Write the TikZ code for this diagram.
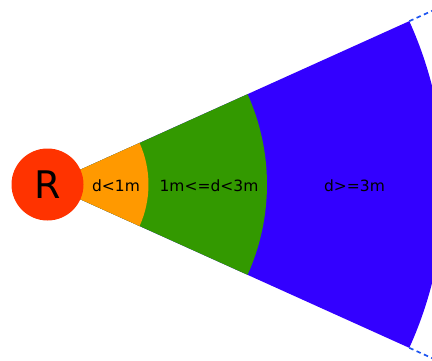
\documentclass[tikz,border=0pt]{standalone}
\usepackage{fontspec}
\setmainfont{DejaVu Sans}
\usetikzlibrary{calc}
\definecolor{rred}{RGB}{255,51,0}
\definecolor{zorange}{RGB}{255,153,0}
\definecolor{zgreen}{RGB}{51,153,0}
\definecolor{zblue}{RGB}{51,0,255}
\definecolor{dashblue}{RGB}{30,85,240}
\tikzset{
  zonelabel/.style={font=\fontsize{15.5}{18}\selectfont, text=black, inner sep=0pt},
  edgedash/.style={draw=dashblue, line width=1.7pt, dash pattern=on 4.5pt off 3.5pt}
}
\begin{document}
\begin{tikzpicture}[x=1pt,y=1pt]
\useasboundingbox (0,0) rectangle (432,360);
\clip (0,0) rectangle (432,360);
\coordinate (c) at (47.5,175.5);
\def\ha{24.3}
% blue zone
\fill[zblue] (c) -- ++(\ha:397) arc[start angle=\ha, end angle=-\ha, radius=397] -- cycle;
% dashed continuation
\draw[edgedash] ($(c)+(\ha:397)$) -- ++(\ha:80);
\draw[edgedash] ($(c)+(-\ha:397)$) -- ++(-\ha:80);
% green zone
\fill[zgreen] (c) -- ++(\ha:219.5) arc[start angle=\ha, end angle=-\ha, radius=219.5] -- cycle;
% orange zone
\fill[zorange] (c) -- ++(\ha:101) arc[start angle=\ha, end angle=-\ha, radius=101] -- cycle;
% R circle
\fill[rred] (c) circle[radius=36];
\node[font=\fontsize{38}{40}\selectfont, inner sep=0pt] (r) at (c) {R};
\node[zonelabel] (z1) at ($(c)+(68.5,-1.5)$) {d<1m};
\node[zonelabel] (z2) at ($(c)+(161.5,-1.5)$) {1m<=d<3m};
\node[zonelabel] (z3) at ($(c)+(307,-1.5)$) {d>=3m};
\end{tikzpicture}
\end{document}
